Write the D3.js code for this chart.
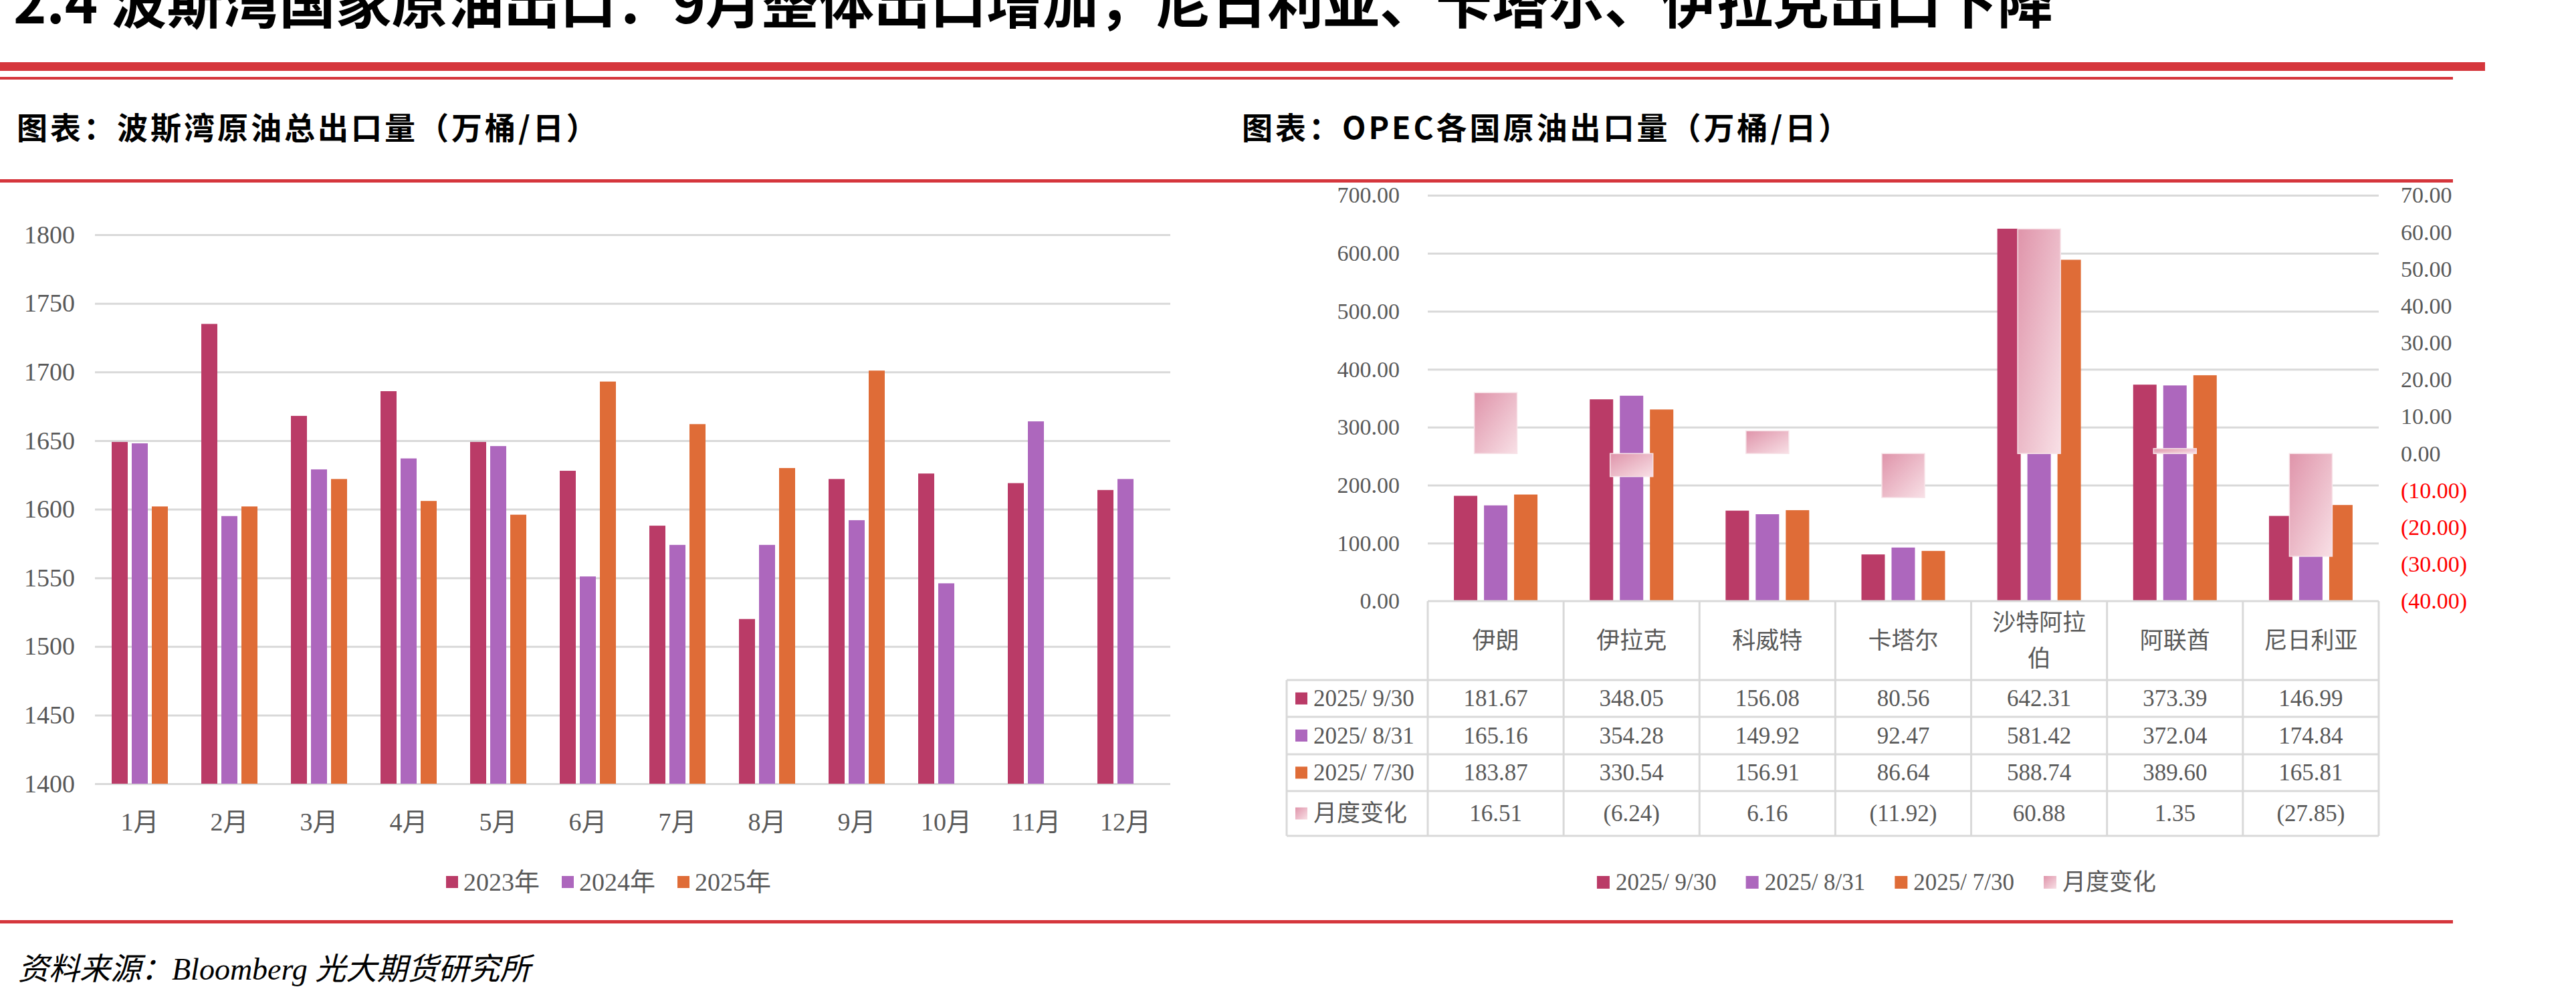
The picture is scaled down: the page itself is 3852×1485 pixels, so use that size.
<!DOCTYPE html>
<html>
<head>
<meta charset="utf-8">
<script src="https://cdn.jsdelivr.net/npm/d3@7"></script>
<style>
body { margin: 0; background: #fff; }
</style>
</head>
<body>
<div id="chart-area"></div>
<script>
// ---- data: left chart ----
var months = ["1月", "2月", "3月", "4月", "5月", "6月", "7月", "8月", "9月", "10月", "11月", "12月"];
var years = ["2023年", "2024年", "2025年"];
var v2023 = [1649, 1735, 1668, 1686, 1649, 1628, 1588, 1520, 1622, 1626, 1619, 1614];
var v2024 = [1648, 1595, 1629, 1637, 1646, 1551, 1574, 1574, 1592, 1546, 1664, 1622];
var v2025 = [1602, 1602, 1622, 1606, 1596, 1693, 1662, 1630, 1701];
var leftTicks = [1400, 1450, 1500, 1550, 1600, 1650, 1700, 1750, 1800];

// ---- data: right chart ----
var countries = ["伊朗", "伊拉克", "科威特", "卡塔尔", "沙特阿拉伯", "阿联酋", "尼日利亚"];
var dates = ["2025/ 9/30", "2025/ 8/31", "2025/ 7/30"];
var s0930 = [181.67, 348.05, 156.08, 80.56, 642.31, 373.39, 146.99];
var s0831 = [165.16, 354.28, 149.92, 92.47, 581.42, 372.04, 174.84];
var s0730 = [183.87, 330.54, 156.91, 86.64, 588.74, 389.60, 165.81];
var change = [16.51, -6.24, 6.16, -11.92, 60.88, 1.35, -27.85];
var changeName = "月度变化";
var volTicks = [0, 100, 200, 300, 400, 500, 600, 700];
var chgTicks = [-40, -30, -20, -10, 0, 10, 20, 30, 40, 50, 60, 70];

var title = "2.4 波斯湾国家原油出口：9月整体出口增加，尼日利亚、卡塔尔、伊拉克出口下降";
var subLeft = "图表：波斯湾原油总出口量（万桶/日）";
var subRight = "图表：OPEC各国原油出口量（万桶/日）";
var source = "资料来源：Bloomberg 光大期货研究所";

var colors = ["#BA3B67", "#AD67BD", "#DF6C37"];
var red = "#D5363C";
var grid = "#D9D9D9";
var txt = "#595959";
var serif = '"Liberation Serif", "Noto Sans CJK SC", serif';
var cjkBold = '"Noto Sans CJK SC", sans-serif';

var svg = d3.select('#chart-area')
    .append('svg')
    .attr('width', 3852)
    .attr('height', 1485);

var defs = svg.append('defs');
var grad = defs.append('linearGradient')
    .attr('id', 'chg')
    .attr('x1', 0).attr('y1', 0).attr('x2', 1).attr('y2', 1);
grad.append('stop').attr('offset', '0%').attr('stop-color', '#DF94AA');
grad.append('stop').attr('offset', '100%').attr('stop-color', '#F8E0E6');

// ---- page header / rules ----
// the heading is clipped at the top edge in the source page, kept that way
svg.append('text')
    .attr('x', 20).attr('y', 35)
    .attr('font-family', cjkBold).attr('font-weight', 700)
    .attr('font-size', 84)
    .text(title);

svg.append('rect').attr('x', 0).attr('y', 93).attr('width', 3716).attr('height', 13).attr('fill', red);
svg.append('rect').attr('x', 0).attr('y', 115).attr('width', 3668).attr('height', 4).attr('fill', red);
svg.append('rect').attr('x', 0).attr('y', 268).attr('width', 3668).attr('height', 5).attr('fill', red);
svg.append('rect').attr('x', 0).attr('y', 1376).attr('width', 3668).attr('height', 5).attr('fill', red);

svg.append('text')
    .attr('x', 25).attr('y', 208)
    .attr('font-family', cjkBold).attr('font-weight', 700)
    .attr('font-size', 46).attr('letter-spacing', 4)
    .text(subLeft);

svg.append('text')
    .attr('x', 1857).attr('y', 208)
    .attr('font-family', cjkBold).attr('font-weight', 700)
    .attr('font-size', 46).attr('letter-spacing', 4)
    .text(subRight);

svg.append('text')
    .attr('x', 27).attr('y', 1465)
    .attr('font-family', serif).attr('font-style', 'italic')
    .attr('font-size', 46)
    .text(source);

function styleAxis(sel, fs) {
    sel.select('.domain').remove();
    sel.selectAll('.tick line').attr('stroke', grid).attr('stroke-width', 3);
    sel.selectAll('.tick text')
        .attr('font-family', serif)
        .attr('font-size', fs)
        .attr('fill', txt);
}

function legend(items, cx, y, fs, mw, mh, gapText, gapItem) {
    var lg = svg.append('g');
    var xpos = 0;
    items.forEach(function(it) {
        lg.append('rect')
            .attr('x', xpos).attr('y', y)
            .attr('width', mw).attr('height', mh)
            .attr('fill', it.fill);
        var t = lg.append('text')
            .attr('x', xpos + mw + gapText)
            .attr('y', y + mh / 2)
            .attr('dominant-baseline', 'central')
            .attr('font-family', serif)
            .attr('font-size', fs)
            .attr('fill', txt)
            .text(it.name);
        xpos += mw + gapText + t.node().getComputedTextLength() + gapItem;
    });
    var w = xpos - gapItem;
    lg.attr('transform', 'translate(' + (cx - w / 2) + ',0)');
}

// ================= LEFT CHART =================
var x1 = d3.scaleBand().domain(months).range([142, 1750]);
var inner1 = d3.scaleBand().domain(years).range([-45, 45]).paddingInner(0.2).paddingOuter(0.1);
var y1 = d3.scaleLinear().domain([1400, 1800]).range([1172, 351]);

var gl = svg.append('g').attr('transform', 'translate(142,0)')
    .call(d3.axisLeft(y1).tickValues(leftTicks).tickSize(-(1750 - 142)).tickPadding(30).tickFormat(d3.format('d')));
styleAxis(gl, 38);

var seriesL = [v2023, v2024, v2025];
seriesL.forEach(function(vals, si) {
    svg.append('g').selectAll('rect')
        .data(vals)
        .enter()
        .append('rect')
        .attr('x', function(d, i) { return x1(months[i]) + x1.bandwidth() / 2 + inner1(years[si]); })
        .attr('y', function(d) { return y1(d); })
        .attr('width', inner1.bandwidth())
        .attr('height', function(d) { return y1(1400) - y1(d); })
        .attr('fill', colors[si]);
});

var gx1 = svg.append('g').attr('transform', 'translate(0,1172)')
    .call(d3.axisBottom(x1).tickSize(0));
gx1.select('.domain').remove();
gx1.selectAll('.tick text')
    .attr('dy', null).attr('y', 57)
    .attr('dominant-baseline', 'central')
    .attr('font-family', serif).attr('font-size', 38).attr('fill', txt);

legend(years.map(function(n, i) { return { name: n, fill: colors[i] }; }), 910, 1310, 38, 18, 18, 8, 33);

// ================= RIGHT CHART =================
var xL = 2135, xR = 3557;
var x2 = d3.scaleBand().domain(countries).range([xL, xR]);
var inner2 = d3.scaleBand().domain(dates).range([-67.5, 67.5]).paddingInner(2 / 9).paddingOuter(1 / 9);
var yVol = d3.scaleLinear().domain([0, 700]).range([899, 292]);
var yChg = d3.scaleLinear().domain([-40, 70]).range([899, 292]);

function fmt(d) {
    var f = d3.format('.2f');
    return d < 0 ? '(' + f(-d) + ')' : f(d);
}

var ga = svg.append('g').attr('transform', 'translate(' + xL + ',0)')
    .call(d3.axisLeft(yVol).tickValues(volTicks).tickSize(-(xR - xL)).tickPadding(42).tickFormat(d3.format('.2f')));
styleAxis(ga, 34);
ga.selectAll('.tick line').filter(function(d) { return d === 0; }).remove();

var gb = svg.append('g').attr('transform', 'translate(' + xR + ',0)')
    .call(d3.axisRight(yChg).tickValues(chgTicks).tickSize(0).tickPadding(33).tickFormat(fmt));
styleAxis(gb, 34);
gb.selectAll('.tick text').attr('fill', function(d) { return d < 0 ? '#FF0000' : txt; });

var seriesR = [s0930, s0831, s0730];
seriesR.forEach(function(vals, si) {
    svg.append('g').selectAll('rect')
        .data(vals)
        .enter()
        .append('rect')
        .attr('x', function(d, i) { return x2(countries[i]) + x2.bandwidth() / 2 + inner2(dates[si]); })
        .attr('y', function(d) { return yVol(d); })
        .attr('width', inner2.bandwidth())
        .attr('height', function(d) { return yVol(0) - yVol(d); })
        .attr('fill', colors[si]);
});

var chgW = 64;
svg.append('g').selectAll('rect')
    .data(change)
    .enter()
    .append('rect')
    .attr('x', function(d, i) { return x2(countries[i]) + x2.bandwidth() / 2 - chgW / 2; })
    .attr('y', function(d) { return yChg(Math.max(d, 0)); })
    .attr('width', chgW)
    .attr('height', function(d) { return Math.abs(yChg(d) - yChg(0)); })
    .attr('fill', 'url(#chg)')
    .attr('stroke', '#F7E3E8')
    .attr('stroke-width', 1.5);

// ---- data table ----
var rowEdges = [899, 1017, 1072, 1128, 1183, 1250];
var tableLeft = 1924;
var tg = svg.append('g');

// header row (category names)
countries.forEach(function(c) {
    var cx = x2(c) + x2.bandwidth() / 2;
    var lines = c.length > 4 ? [c.slice(0, 4), c.slice(4)] : [c];
    var cy = (rowEdges[0] + rowEdges[1]) / 2;
    lines.forEach(function(ln, li) {
        tg.append('text')
            .attr('x', cx)
            .attr('y', cy + (li - (lines.length - 1) / 2) * 54)
            .attr('text-anchor', 'middle')
            .attr('dominant-baseline', 'central')
            .attr('font-family', serif).attr('font-size', 35)
            .attr('fill', txt)
            .text(ln);
    });
});

var rows = [
    { name: dates[0], fill: colors[0], vals: s0930 },
    { name: dates[1], fill: colors[1], vals: s0831 },
    { name: dates[2], fill: colors[2], vals: s0730 },
    { name: changeName, fill: 'url(#chg)', vals: change }
];
rows.forEach(function(r, ri) {
    var cy = (rowEdges[ri + 1] + rowEdges[ri + 2]) / 2;
    tg.append('rect')
        .attr('x', 1937).attr('y', cy - 9)
        .attr('width', 18).attr('height', 18)
        .attr('fill', r.fill);
    tg.append('text')
        .attr('x', 1964).attr('y', cy)
        .attr('dominant-baseline', 'central')
        .attr('font-family', serif).attr('font-size', 35)
        .attr('fill', txt)
        .text(r.name);
    tg.selectAll(null)
        .data(r.vals)
        .enter()
        .append('text')
        .attr('x', function(d, i) { return x2(countries[i]) + x2.bandwidth() / 2; })
        .attr('y', cy)
        .attr('text-anchor', 'middle')
        .attr('dominant-baseline', 'central')
        .attr('font-family', serif).attr('font-size', 35)
        .attr('fill', txt)
        .text(fmt);
});

// table borders
tg.append('line').attr('x1', xL).attr('x2', xR).attr('y1', rowEdges[0]).attr('y2', rowEdges[0])
    .attr('stroke', grid).attr('stroke-width', 3);
rowEdges.slice(1).forEach(function(ry) {
    tg.append('line').attr('x1', tableLeft).attr('x2', xR).attr('y1', ry).attr('y2', ry)
        .attr('stroke', grid).attr('stroke-width', 3);
});
countries.map(function(c) { return x2(c); }).concat([xR]).forEach(function(vx) {
    tg.append('line').attr('x1', vx).attr('x2', vx).attr('y1', rowEdges[0]).attr('y2', rowEdges[5])
        .attr('stroke', grid).attr('stroke-width', 3);
});
tg.append('line').attr('x1', tableLeft).attr('x2', tableLeft).attr('y1', rowEdges[1]).attr('y2', rowEdges[5])
    .attr('stroke', grid).attr('stroke-width', 3);

legend(dates.map(function(n, i) { return { name: n, fill: colors[i] }; })
    .concat([{ name: changeName, fill: 'url(#chg)' }]), 2806, 1310, 35, 19, 19, 9, 44);
</script>
</body>
</html>
